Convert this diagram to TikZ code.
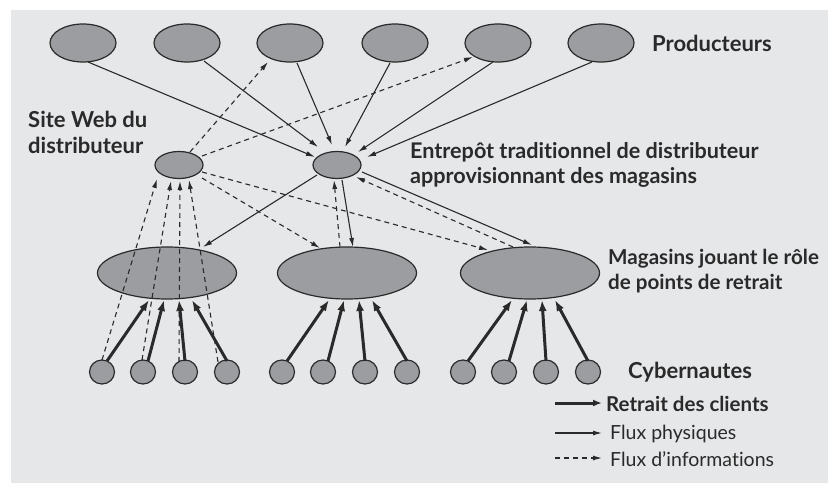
\documentclass[tikz,border=0pt]{standalone}
\usepackage{fontspec}
\setmainfont{Lato}[Ligatures=NoCommon]
\usetikzlibrary{shapes.geometric,arrows.meta,calc}
\definecolor{bg}{HTML}{E6E7E9}
\definecolor{nodefill}{HTML}{9C9DA1}
\definecolor{ink}{HTML}{2A2A2A}
\begin{document}
\begin{tikzpicture}[x=1pt,y=-1pt,
 nd/.style={ellipse, draw=ink, fill=nodefill, line width=1.2pt, inner sep=0pt},
 prod/.style={nd, minimum width=66pt, minimum height=38pt},
 hub/.style={nd, minimum width=48pt, minimum height=27pt},
 store/.style={nd, minimum width=139pt, minimum height=52pt},
 cust/.style={nd, minimum width=25pt, minimum height=24pt},
 phys/.style={draw=ink, line width=1.1pt, -{Latex[length=9pt,width=5pt]}},
 info/.style={phys, dash pattern=on 5pt off 4pt},
 pick/.style={draw=ink, line width=3pt, -{Latex[length=11pt,width=8pt]}},
 lbl/.style={font=\bfseries\fontsize{22}{26}\selectfont, text=ink, align=left, anchor=west, inner sep=0pt},
 legb/.style={font=\bfseries\fontsize{20.5}{24}\selectfont, text=ink, anchor=west, inner sep=0pt},
 leg/.style={font=\fontsize{19.5}{24}\selectfont, text=ink, anchor=west, inner sep=0pt},
]
\useasboundingbox (0,0) rectangle (839,484);
\fill[bg] (11,10) rectangle (828,483);

% producers
\foreach \i/\x in {1/83,2/187,3/290,4/395,5/498,6/601}
  \node[prod] (P\i) at (\x,43) {};
\node[hub] (web) at (179,165) {};
\node[hub] (wh) at (337,165) {};
\node[store] (S1) at (167,273) {};
\node[store] (S2) at (347,273) {};
\node[store] (S3) at (530,273) {};
\foreach \i/\x in {1/102,2/143,3/185,4/227,5/282,6/323,7/365,8/407,9/463,10/504,11/546,12/588}
  \node[cust] (C\i) at (\x,372) {};

% labels
\node[lbl] (tprod) at (652,43) {Producteurs};
\node[lbl] (tweb) at (28,132) {Site Web du\\distributeur};
\node[lbl, font=\bfseries\fontsize{21.6}{25}\selectfont] (twh) at (410,165) {Entrepôt traditionnel de distributeur\\approvisionnant des magasins};
\node[lbl, font=\bfseries\fontsize{20.6}{25}\selectfont] (tstore) at (608,271) {Magasins jouant le rôle\\de points de retrait};
\node[lbl] (tcyb) at (628,372) {Cybernautes};

% producers -> warehouse
\draw[phys] ($(P1)+(5,19)$) -- ($(wh)+(-22,-8)$);
\draw[phys] ($(P2)+(17,18)$) -- ($(wh)+(-19,-18)$);
\draw[phys] ($(P3)+(7,20)$) -- ($(wh)+(-5,-20)$);
\draw[phys] ($(P4)+(-5,20)$) -- ($(wh)+(8,-18)$);
\draw[phys] ($(P5)+(-5,19)$) -- ($(wh)+(21,-13)$);
\draw[phys] ($(P6)+(-9,19)$) -- ($(wh)+(30,-8)$);

% web -> producers
\draw[info] ($(web)+(11,-13)$) -- ($(P3)+(-22,19)$);
\draw[info] ($(web)+(23,-9)$) -- ($(P5)+(-25,14)$);

% warehouse -> stores
\draw[phys] ($(wh)+(-20,10)$) -- ($(S1)+(36,-26)$);
\draw[phys] ($(wh)+(5,15)$) -- ($(S2)+(6,-26)$);
\draw[phys] ($(wh)+(25,7)$) -- ($(S3)+(2,-28)$);

% information web -> stores, stores -> warehouse
\draw[info] ($(web)+(23,13)$) -- ($(S2)+(-27,-25)$);
\draw[info] ($(web)+(23,7)$) -- ($(S3)+(-42,-23)$);
\draw[info] ($(S2)+(-7,-26)$) -- ($(wh)+(-3,15)$);
\draw[info] ($(S3)+(-17,-26)$) -- ($(wh)+(19,12)$);

% cybernautes -> web
\draw[info] ($(C1)+(0,-12)$) -- ($(web)+(-22,14)$);
\draw[info] ($(C2)+(-1,-12)$) -- ($(web)+(-8,16)$);
\draw[info] ($(C3)+(-6,-10)$) -- ($(web)+(1,16)$);
\draw[info] ($(C4)+(-9,-10)$) -- ($(web)+(10,15)$);

% cybernautes -> stores (retrait)
\foreach \s/\a/\b/\c/\d in {S1/C1/C2/C3/C4, S2/C5/C6/C7/C8, S3/C9/C10/C11/C12}{
  \draw[pick] ($(\a)+(5,-11)$) -- ($(\s)+(-18,27)$);
  \draw[pick] ($(\b)+(5,-11)$) -- ($(\s)+(-3,27)$);
  \draw[pick] ($(\c)+(0,-11)$) -- ($(\s)+(12,27)$);
  \draw[pick] ($(\d)+(0,-11)$) -- ($(\s)+(25,27)$);
}

% legend
\coordinate (la1) at (555,403); \coordinate (lb1) at (602,403);
\coordinate (la2) at (555,433); \coordinate (lb2) at (602,433);
\coordinate (la3) at (555,458); \coordinate (lb3) at (602,458);
\draw[draw=ink, line width=3pt, -{Latex[length=9pt,width=7pt]}] (la1) -- (lb1);
\draw[phys] (la2) -- (lb2);
\draw[info] (la3) -- (lb3);
\node[legb] (l1) at (606,404) {Retrait des clients};
\node[leg] (l2) at (610,434) {Flux physiques};
\node[leg] (l3) at (610,459) {Flux d’informations};
\end{tikzpicture}
\end{document}
